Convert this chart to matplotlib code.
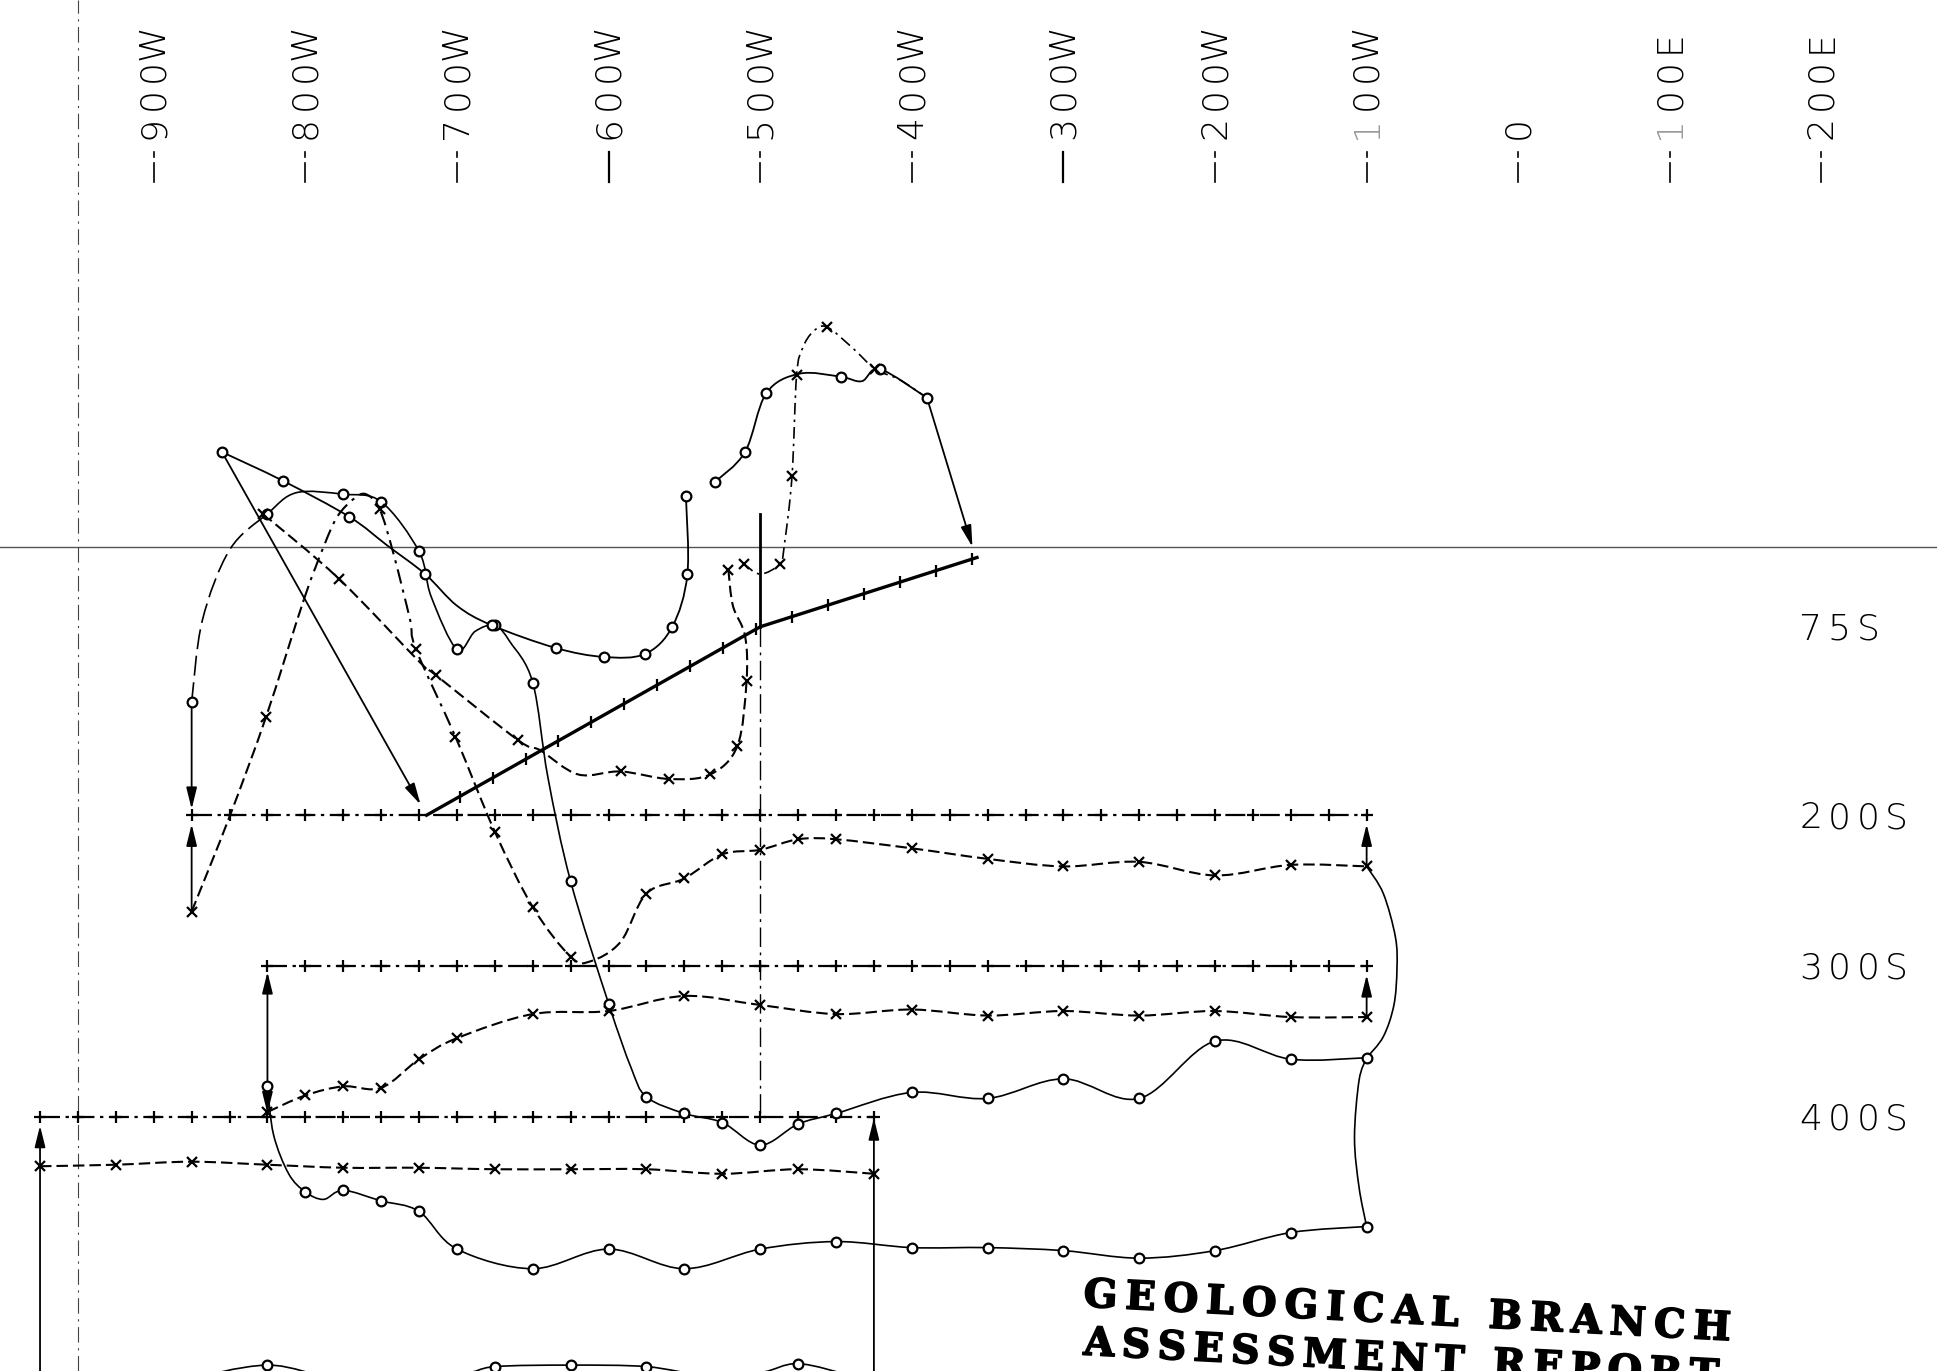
import numpy as np
import matplotlib
matplotlib.use("Agg")
import matplotlib.pyplot as plt
import matplotlib.patheffects as pe
from matplotlib.path import Path
from matplotlib.patches import PathPatch, FancyArrowPatch
from matplotlib.transforms import offset_copy
from matplotlib.font_manager import FontProperties
from matplotlib.textpath import text_to_path

# ------------------------------------------------------------------
# Grid annotation (feet): easting x (W negative), southing S (S positive)
# ------------------------------------------------------------------
station_x = [-900, -800, -700, -600, -500, -400, -300, -200, -100, 0, 100, 200]
station_labels = ["900W", "800W", "700W", "600W", "500W", "400W", "300W",
                  "200W", "100W", "0", "100E", "200E"]
solid_tick_stations = [-600, -300]

line_labels = ["75S", "200S", "300S", "400S"]
line_label_s = [75, 200, 300, 400]

base_line_s = 22          # horizontal reference line
picket_spacing = 25       # picket interval along every line

# survey lines (x from, x to, southing)
line200 = (-875, -100, 200)
line300 = (-825, -100, 300)
line400 = (-975, -425, 400)
# diagonal line vertices
diag_x = [-720, -500, -357]
diag_s = [200, 75, 29]

# ------------------------------------------------------------------
# Profiles (x, plotted southing, 1 = reading marker)
# ------------------------------------------------------------------
p200_o_x = [-875, -868, -850, -825, -806, -775, -750, -725, -717, -700, -688, -675, -665, -650,
            -640, -625, -600, -585, -575, -550, -525, -500, -475, -450, -400, -350, -300, -250,
            -200, -150, -100]
p200_o_s = [125, 71, 24, 0, -14, -13, -8, 25, 55, 90, 78, 74, 85, 112,
            175, 244, 325, 368, 387, 398, 404, 419, 405, 398, 384, 388, 375, 388,
            350, 362, 361]
p200_o_m = [1, 0, 0, 1, 0, 1, 1, 1, 0, 1, 0, 1, 0, 1,
            0, 1, 1, 0, 1, 1, 1, 1, 1, 1, 1, 1, 1, 1,
            1, 1, 1]

p200_x_x = [-875, -850, -826, -801, -788, -779, -768, -760, -751, -742, -731, -727, -701, -675,
            -650, -625, -612, -592, -575, -550, -525, -500, -475, -450, -400, -350, -300, -250,
            -200, -150, -100]
p200_x_s = [264, 201, 135, 57, 22, 2, -10, -13, -3, 26, 70, 90, 148, 211,
            261, 294, 297, 284, 252, 242, 226, 223, 216, 216, 222, 229, 234, 231,
            240, 233, 234]
p200_x_m = [1, 0, 1, 0, 0, 0, 0, 0, 1, 0, 0, 1, 1, 1,
            1, 1, 0, 0, 1, 1, 1, 1, 1, 1, 1, 1, 1, 1,
            1, 1, 1]

diag_oa_x = [-855, -815, -771, -746, -721, -700, -677, -635, -603, -576, -558, -548, -549]
diag_oa_s = [-41, -22, 2, 21, 40, 61, 74, 89, 95, 93, 75, 40, -12]
diag_oa_m = [1, 1, 1, 0, 1, 0, 1, 1, 1, 1, 1, 1, 1]

diag_ob_x = [-530, -510, -496, -474, -447, -433, -421, -390]
diag_ob_s = [-21, -41, -80, -93, -91, -88, -96, -77]
diag_ob_m = [1, 1, 1, 0, 1, 0, 1, 1]

diag_x_x = [-828, -778, -724, -714, -660, -645, -620, -592, -560, -533, -515, -509, -510, -518, -521]
diag_x_s = [0, 43, 99, 107, 150, 157, 173, 171, 176, 173, 154, 111, 81, 61, 37]
diag_x_m = [1, 1, 0, 1, 1, 0, 0, 1, 1, 1, 1, 1, 0, 0, 1]

diag_dd_x = [-511, -500, -487, -484, -479, -476, -472, -465, -456, -439, -424, -408, -390]
diag_dd_s = [33, 40, 33, 20, -25, -92, -110, -121, -124, -110, -96, -89, -77]
diag_dd_m = [1, 0, 1, 0, 1, 1, 0, 0, 1, 0, 1, 0, 0]

p300_x_x = [-825, -800, -775, -750, -725, -700, -650, -600, -550, -500, -450, -400, -350,
            -300, -250, -200, -150, -100]
p300_x_s = [397, 386, 380, 381, 362, 348, 332, 330, 320, 326, 332, 329, 333,
            330, 333, 330, 334, 334]

p300_o_x = [-825, -821, -811, -800, -788, -775, -750, -725, -700, -650, -600, -550, -500,
            -450, -400, -350, -300, -250, -200, -150, -100]
p300_o_s = [380, 412, 438, 450, 455, 449, 456, 463, 488, 501, 488, 501, 488,
            483, 487, 487, 489, 494, 489, 477, 473]
p300_o_m = [1, 0, 0, 1, 0, 1, 1, 1, 1, 1, 1, 1, 1,
            1, 1, 1, 1, 1, 1, 1, 1]

p400_x_x = [-975, -925, -875, -825, -775, -725, -675, -625, -575, -525, -475, -425]
p400_x_s = [433, 432, 430, 432, 434, 434, 435, 435, 435, 438, 435, 438]

p400_o_x = [-880, -825, -775, -700, -675, -625, -575, -535, -500, -475, -440]
p400_o_s = [575, 565, 574, 571, 566, 565, 566, 572, 570, 564, 572]
p400_o_m = [0, 1, 0, 0, 1, 1, 1, 0, 0, 1, 0]

link1_x = [-100, -89, -81, -80, -82, -89, -100]
link1_s = [234, 252, 281, 302, 326, 347, 361]
link2_x = [-100, -105, -108, -105, -100]
link2_s = [361, 376, 414, 447, 473]

# arrows: (x0, s0, x1, s1)
arrows = [(-875, 125, -875, 196), (-875, 264, -875, 206),
          (-825, 380, -825, 304), (-825, 380, -825, 398),
          (-100, 234, -100, 206), (-100, 334, -100, 306),
          (-425, 580, -425, 401), (-975, 580, -975, 406),
          (-855, -41, -724, 193), (-390, -77, -360, 22)]

title_lines = ["GEOLOGICAL BRANCH", "ASSESSMENT REPORT"]

# ------------------------------------------------------------------
fig = plt.figure(figsize=(19.37, 13.71), dpi=100)
ax = fig.add_axes([0, 0, 1, 1])
ax.set_xlim(-1001.4, 276.2)
ax.set_ylim(568.9, -341.0)
ax.axis("off")

K = "black"
DASHDOT = (0, (9, 2.5, 1.5, 2.5))
DASHED = (0, (5.5, 2.4))
LONGDASH = (0, (12, 4))
PROFILE_DD = (0, (7, 3, 1.5, 3))


def bezier_segments(xs, ys):
    p = np.column_stack([xs, ys]).astype(float)
    n = len(p)
    segs = []
    for i in range(n - 1):
        p0 = p[max(i - 1, 0)]
        p1, p2 = p[i], p[i + 1]
        p3 = p[min(i + 2, n - 1)]
        segs.append((p1, p1 + (p2 - p0) / 6.0, p2 - (p3 - p1) / 6.0, p2))
    return segs


def curve(xs, ys, styles, lw, z=3):
    segs = bezier_segments(xs, ys)
    if not isinstance(styles, list):
        styles = [styles] * len(segs)
    i = 0
    while i < len(segs):
        j = i
        while j + 1 < len(segs) and styles[j + 1] == styles[i]:
            j += 1
        verts = [segs[i][0]]
        codes = [Path.MOVETO]
        for k in range(i, j + 1):
            verts += list(segs[k][1:])
            codes += [Path.CURVE4] * 3
        ax.add_patch(PathPatch(Path(verts, codes), fill=False, lw=lw, ls=styles[i],
                               ec=K, capstyle="butt", joinstyle="round", zorder=z))
        i = j + 1


def readings(xs, ys, flags, kind):
    xs = np.asarray(xs, float)
    ys = np.asarray(ys, float)
    f = np.asarray(flags, bool) if flags is not None else np.ones(len(xs), bool)
    if kind == "o":
        ax.plot(xs[f], ys[f], ls="none", marker="o", ms=7, mfc="white",
                mec=K, mew=1.6, zorder=5)
    else:
        ax.plot(xs[f], ys[f], ls="none", marker="x", ms=6.5, mec=K,
                mew=1.6, zorder=5)


# reference lines
ax.axhline(base_line_s, color="#555555", lw=1.0, zorder=1)
ax.axvline(-950, color="#444444", lw=0.8, ls=(0, (14, 5, 2, 5)), zorder=1)
ax.plot([-500, -500], [0, 75], color=K, lw=2.0, zorder=2)
ax.plot([-500, -500], [75, 400], color=K, lw=1.0, ls=(0, (14, 4, 2, 4)), zorder=1)

# survey lines with pickets
for (xa, xb, s) in (line200, line300, line400):
    ax.plot([xa, xb], [s, s], color=K, lw=1.6, ls=DASHDOT, zorder=2)
    px = np.arange(xa, xb + 1, picket_spacing)
    ax.plot(px, np.full(len(px), s), ls="none", marker="+", ms=9, mew=1.6,
            color=K, zorder=2)

ax.plot(diag_x, diag_s, color=K, lw=2.4, solid_joinstyle="miter", zorder=2)
dxs = np.diff(diag_x)
dss = np.diff(diag_s)
seg_len = np.hypot(dxs, dss)
cum = np.concatenate([[0], np.cumsum(seg_len)])
pick_x, pick_s = [], []
for d in np.arange(picket_spacing, cum[-1] + 1, picket_spacing):
    k = min(np.searchsorted(cum, d) - 1, len(seg_len) - 1)
    t = (d - cum[k]) / seg_len[k]
    pick_x.append(diag_x[k] + t * dxs[k])
    pick_s.append(diag_s[k] + t * dss[k])
ax.plot(pick_x, pick_s, ls="none", marker="|", ms=9, mew=1.6, color=K, zorder=2)

# profiles
curve(p200_o_x, p200_o_s, [LONGDASH] * 3 + ["solid"] * (len(p200_o_x) - 4), 1.2)
readings(p200_o_x, p200_o_s, p200_o_m, "o")
p200_styles = [DASHED] * 3 + [PROFILE_DD] * 9 + [DASHED] * (len(p200_x_x) - 13)
curve(p200_x_x, p200_x_s, p200_styles, 1.5)
readings(p200_x_x, p200_x_s, p200_x_m, "x")

curve(diag_oa_x, diag_oa_s, "solid", 1.3)
readings(diag_oa_x, diag_oa_s, diag_oa_m, "o")
curve(diag_ob_x, diag_ob_s, "solid", 1.3)
readings(diag_ob_x, diag_ob_s, diag_ob_m, "o")
curve(diag_x_x, diag_x_s, DASHED, 1.5)
readings(diag_x_x, diag_x_s, diag_x_m, "x")
curve(diag_dd_x, diag_dd_s, PROFILE_DD, 1.2)
readings(diag_dd_x, diag_dd_s, diag_dd_m, "x")

curve(p300_x_x, p300_x_s, DASHED, 1.5)
readings(p300_x_x, p300_x_s, None, "x")
curve(p300_o_x, p300_o_s, "solid", 1.2)
readings(p300_o_x, p300_o_s, p300_o_m, "o")

curve(p400_x_x, p400_x_s, DASHED, 1.5)
readings(p400_x_x, p400_x_s, None, "x")
curve(p400_o_x, p400_o_s, "solid", 1.2)
readings(p400_o_x, p400_o_s, p400_o_m, "o")

curve(link1_x, link1_s, "solid", 1.2)
curve(link2_x, link2_s, "solid", 1.2)

for (x0, s0, x1, s1) in arrows:
    ax.add_patch(FancyArrowPatch((x0, s0), (x1, s1),
                                 arrowstyle="-|>,head_length=13,head_width=3.2",
                                 mutation_scale=1, lw=1.3, color=K,
                                 shrinkA=0, shrinkB=0, zorder=4))

# ------------------------------------------------------------------
# lettering
plot_font = FontProperties(family="DejaVu Sans", weight="light", size=26)
ADV = 28.5   # pixel advance of the plotter lettering


def spaced(x, s, text, adv, angle, fp, colors=None):
    th = np.radians(angle)
    for k, ch in enumerate(text):
        if ch == " ":
            continue
        tr = offset_copy(ax.transData, fig=fig, x=k * adv * np.cos(th),
                         y=k * adv * np.sin(th), units="dots")
        c = colors[k] if colors else K
        ax.text(x, s, ch, transform=tr, rotation=angle, ha="center",
                va="center", fontproperties=fp, color=c, zorder=6)


for xs_, lab in zip(station_x, station_labels):
    cols = ["#9a9a9a" if (ch == "1" and i == 0) else K for i, ch in enumerate(lab)]
    spaced(xs_, -256.6, lab, ADV, 90, plot_font, cols)
    if xs_ in solid_tick_stations:
        ax.plot([xs_, xs_], [-240, -220], color=K, lw=1.6)
    else:
        ax.plot([xs_, xs_], [-240, -237], color=K, lw=1.2)
        ax.plot([xs_, xs_], [-233, -220], color=K, lw=1.2)

for lab, s in zip(line_labels, line_label_s):
    spaced(193, s + 2, lab, ADV, 0, plot_font)

# stamp
stamp_font = FontProperties(family="DejaVu Serif", weight="bold", size=28.5)
ink = [pe.withStroke(linewidth=1.2, foreground=K)]
tilt = -3.0
th = np.radians(tilt)
for text, (x0, s0, span) in zip(title_lines, [(-287, 526, 648), (-287, 558, 636)]):
    widths = [text_to_path.get_text_width_height_descent(ch, stamp_font, ismath=False)[0]
              * 100 / 72 for ch in text]
    extra = (span - sum(widths)) / (len(text) - 1)
    pos = 0.0
    for ch, w in zip(text, widths):
        if ch != " ":
            tr = offset_copy(ax.transData, fig=fig, x=pos * np.cos(th),
                             y=pos * np.sin(th), units="dots")
            ax.text(x0, s0, ch, transform=tr, rotation=tilt, rotation_mode="anchor",
                    ha="left", va="baseline", fontproperties=stamp_font, color=K,
                    path_effects=ink, zorder=6)
        pos += w + extra

fig.savefig("out.png", dpi=100)
